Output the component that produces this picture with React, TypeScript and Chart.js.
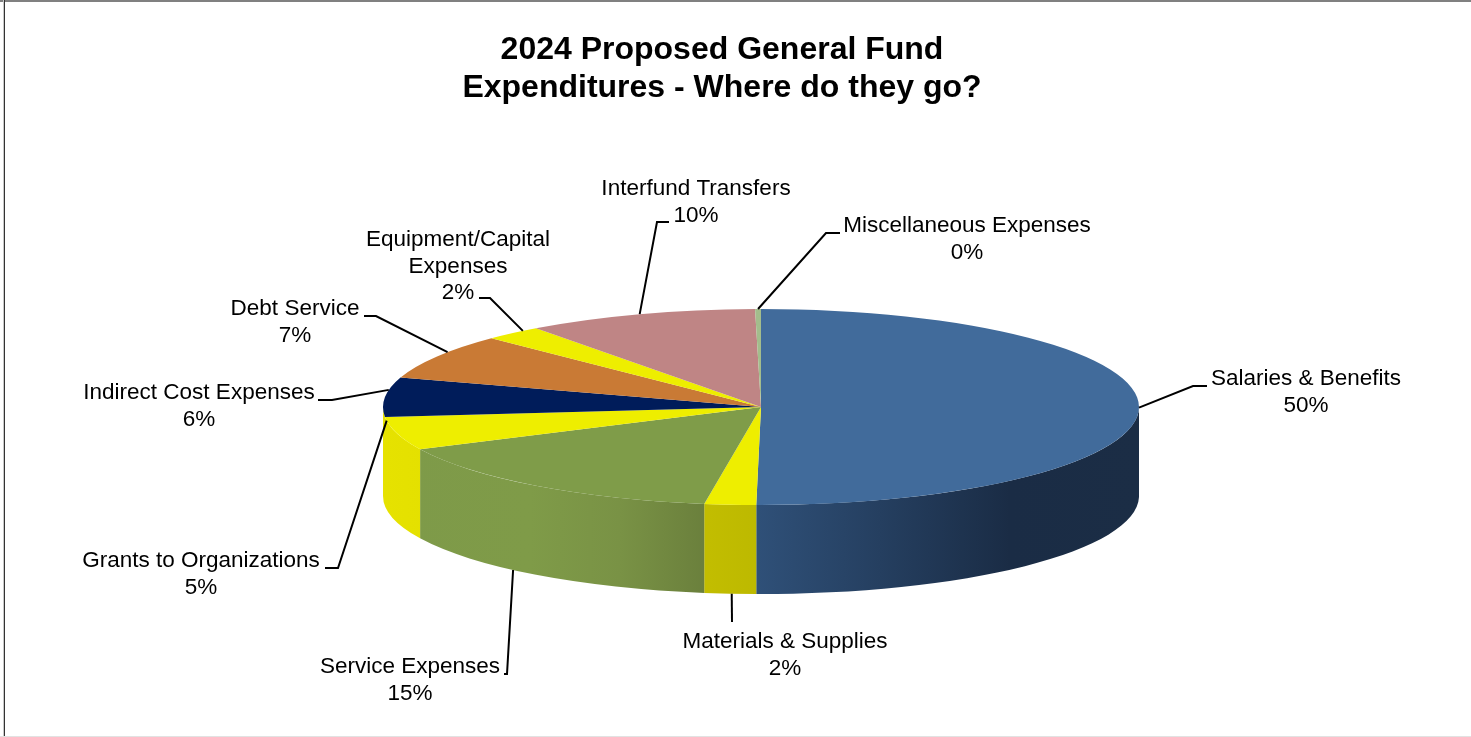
import React, { useEffect, useRef } from "react";
import { Chart, registerables } from "chart.js";

Chart.register(...registerables);

// Budget categories, clockwise from twelve o'clock.
const categories = [
  "Salaries & Benefits",
  "Materials & Supplies",
  "Service Expenses",
  "Grants to Organizations",
  "Indirect Cost Expenses",
  "Debt Service",
  "Equipment/Capital Expenses",
  "Interfund Transfers",
  "Miscellaneous Expenses",
];

// Share of the general fund, in percent (labels show these rounded).
const shares = [50.2, 2.2, 15.49, 5.49, 6.49, 7.49, 2.49, 9.9, 0.25];

const topColors = [
  "#416b9b", "#eeee00", "#7f9c49", "#eeee00", "#001c5a",
  "#c97a35", "#eeee00", "#bf8585", "#a3bd8c",
];

const titleLines = ["2024 Proposed General Fund", "Expenditures - Where do they go?"];

// Wall shading per slice, as [x, colour] stops across the canvas.
const wallStops: [number, string][][] = [
  [[757, "#2f5078"], [880, "#253f60"], [1010, "#1a2c45"], [1139, "#1b2d45"]],
  [[708, "#c2bd00"], [757, "#bdb900"]],
  [[398, "#7e9a49"], [530, "#7f9b48"], [620, "#799245"], [708, "#6a7f3c"]],
  [[383, "#e6e200"], [430, "#e4e000"]],
  [[383, "#001c5a"], [400, "#001c5a"]],
  [[383, "#c97a35"], [400, "#c97a35"]],
  [[383, "#eeee00"], [400, "#eeee00"]],
  [[383, "#bf8585"], [400, "#bf8585"]],
  [[383, "#a3bd8c"], [400, "#a3bd8c"]],
];

// Callout placement: text centre, leader elbow and end, and how far along its
// slice's rim (0 to 1) the leader lands.
const callouts = [
  { x: 1306, y: 379, elbow: [1193, 386], end: [1207, 386], rim: "top", along: 0.5 },
  { x: 785, y: 642, elbow: [732, 622], end: [732, 622], rim: "wall", along: 0.47 },
  { x: 410, y: 667, elbow: [507, 674], end: [504, 674], rim: "wall", along: 0.58 },
  { x: 201, y: 561, elbow: [338, 568], end: [325, 568], rim: "top", along: 0.89 },
  { x: 199, y: 393, elbow: [332, 400], end: [318, 400], rim: "top", along: 0.68 },
  { x: 295, y: 309, elbow: [376, 316], end: [364, 316], rim: "top", along: 0.61 },
  { x: 458, y: 240, elbow: [490, 298], end: [479, 298], rim: "top", along: 0.72, wrap: ["Equipment/Capital", "Expenses"] },
  { x: 696, y: 189, elbow: [657, 222], end: [669, 222], rim: "top", along: 0.5 },
  { x: 967, y: 226, elbow: [826, 233], end: [840, 233], rim: "top", along: 0.5 },
];

// Projected disc: centre, radii and wall height on the canvas.
const DISC = { cx: 761, cy: 407, rx: 378, ry: 98, depth: 89 };
const LABEL_FONT = '22.5px "Liberation Sans"';
const LABEL_LINE = 26.5;

const midAngle = (arc: any) => (arc.startAngle + arc.endAngle) / 2;

const pie3d = {
  id: "pie3d",
  beforeDatasetDraw(chart: any) {
    const { ctx } = chart;
    const arcs = chart.getDatasetMeta(0).data;
    const { cx, cy, rx, ry, depth } = DISC;

    // A slice gets a wall when its middle faces the viewer; the last such slice
    // carries its wall round to the left edge of the disc.
    arcs.forEach((arc: any, i: number) => {
      if (midAngle(arc) > Math.PI) return;
      const next = arcs[i + 1];
      const from = Math.max(arc.startAngle, 0);
      const to = next && midAngle(next) > Math.PI ? Math.PI : Math.min(arc.endAngle, Math.PI);
      if (to <= from) return;
      const stops = wallStops[i];
      const x0 = stops[0][0];
      const x1 = stops[stops.length - 1][0];
      const grad = ctx.createLinearGradient(x0, 0, x1, 0);
      stops.forEach(([x, c]) => grad.addColorStop((x - x0) / (x1 - x0), c));
      ctx.beginPath();
      ctx.ellipse(cx, cy, rx, ry, 0, from, to);
      ctx.ellipse(cx, cy + depth, rx, ry, 0, to, from, true);
      ctx.closePath();
      ctx.fillStyle = grad;
      ctx.fill();
    });

    // The library's own arcs are squashed into the tilted top face.
    const first = arcs[0];
    ctx.save();
    ctx.translate(cx, cy);
    ctx.scale(rx / first.outerRadius, ry / first.outerRadius);
    ctx.translate(-first.x, -first.y);
  },
  afterDatasetDraw(chart: any) {
    chart.ctx.restore();
  },
  afterDraw(chart: any) {
    const { ctx } = chart;
    const arcs = chart.getDatasetMeta(0).data;
    const { cx, cy, rx, ry, depth } = DISC;

    // Chart frame.
    ctx.save();
    ctx.fillStyle = "#808080";
    ctx.fillRect(0, 0, chart.width, 2);
    ctx.fillStyle = "#c8c8c8";
    ctx.fillRect(3, 0, 1, chart.height);
    ctx.fillStyle = "#333333";
    ctx.fillRect(4, 0, 1, chart.height);
    ctx.fillStyle = "#e2e2e2";
    ctx.fillRect(0, chart.height - 1, chart.width, 1);

    arcs.forEach((arc: any, i: number) => {
      const c = callouts[i];
      const angle = arc.startAngle + (arc.endAngle - arc.startAngle) * c.along;
      const ax = cx + rx * Math.cos(angle);
      const ay = cy + ry * Math.sin(angle) + (c.rim === "wall" ? depth : 0);

      ctx.beginPath();
      ctx.moveTo(ax, ay);
      ctx.lineTo(c.elbow[0], c.elbow[1]);
      ctx.lineTo(c.end[0], c.end[1]);
      ctx.strokeStyle = "#000000";
      ctx.lineWidth = 2;
      ctx.stroke();

      const lines = [...(c.wrap ?? [categories[i]]), `${Math.round(shares[i])}%`];
      ctx.font = LABEL_FONT;
      ctx.fillStyle = "#000000";
      ctx.textAlign = "center";
      ctx.textBaseline = "middle";
      lines.forEach((line, n) => ctx.fillText(line, c.x, c.y + n * LABEL_LINE));
    });
    ctx.restore();
  },
};

export default function App() {
  const canvasRef = useRef<HTMLCanvasElement>(null);

  useEffect(() => {
    const chart = new Chart(canvasRef.current!, {
      type: "pie",
      data: {
        labels: categories,
        datasets: [
          {
            data: shares,
            backgroundColor: topColors,
            borderWidth: 0,
          },
        ],
      },
      options: {
        animation: false,
        responsive: false,
        events: [],
        layout: { padding: { top: 32, right: 27 } },
        plugins: {
          legend: { display: false },
          tooltip: { enabled: false },
          title: {
            display: true,
            text: titleLines,
            color: "#000000",
            font: { family: '"Liberation Sans"', size: 32, weight: "bold", lineHeight: 1.16 },
            padding: 0,
          },
        },
      },
      plugins: [pie3d],
    } as any);
    return () => chart.destroy();
  }, []);

  return (
    <canvas
      ref={canvasRef}
      width={1471}
      height={737}
      style={{ position: "absolute", left: 0, top: 0, display: "block", background: "#ffffff" }}
    />
  );
}
